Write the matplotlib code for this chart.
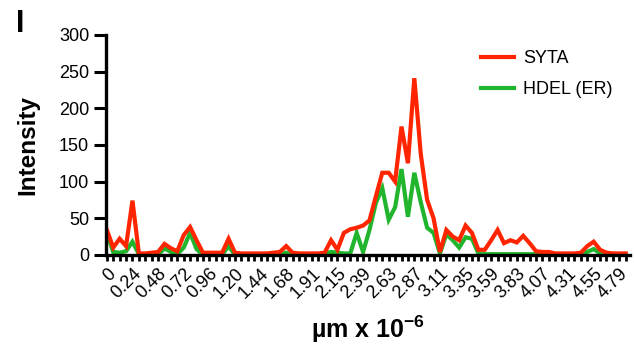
import numpy as np
import matplotlib.pyplot as plt

plt.rcParams['font.family'] = ['Liberation Sans', 'DejaVu Sans']
plt.rcParams['mathtext.fontset'] = 'custom'
plt.rcParams['mathtext.rm'] = 'Liberation Sans:bold'
plt.rcParams['mathtext.bf'] = 'Liberation Sans:bold'
plt.rcParams['mathtext.default'] = 'bf'

# intensity profile, one value per position step
syta = [34, 10, 22, 12, 74, 2, 2, 3, 4, 15, 9, 5, 27, 38, 20, 3, 3, 3, 3, 22,
        3, 2, 2, 2, 2, 2, 3, 4, 12, 3, 2, 2, 2, 2, 3, 20, 7, 30, 35, 37,
        40, 47, 80, 112, 112, 100, 175, 125, 241, 138, 75, 50, 4, 34, 25, 20, 40, 30, 7, 7,
        20, 34, 16, 20, 17, 26, 16, 5, 4, 4, 2, 2, 2, 2, 3, 12, 18, 7, 3, 2,
        2, 2]
hdel = [30, 4, 3, 5, 18, 1, 0, 0, 0, 9, 4, 1, 10, 30, 8, 0, 0, 0, 0, 12,
        0, 0, 0, 0, 0, 0, 0, 1, 3, 0, 0, 0, 0, 0, 2, 4, 3, 2, 2, 30,
        4, 34, 71, 91, 48, 65, 117, 52, 112, 72, 37, 30, 2, 28, 20, 10, 24, 22, 2, 1,
        1, 1, 1, 1, 1, 1, 1, 1, 0, 0, 0, 0, 0, 0, 1, 4, 8, 2, 0, 0,
        0, 0]
tick_labels = ['0', '0.24', '0.48', '0.72', '0.96', '1.20', '1.44', '1.68', '1.91', '2.15',
               '2.39', '2.63', '2.87', '3.11', '3.35', '3.59', '3.83', '4.07', '4.31', '4.55', '4.79']

x = np.arange(len(syta))

fig = plt.figure(figsize=(6.34, 3.56), dpi=100)
ax = fig.add_axes([0.167, 0.284, 0.827, 0.618])

ax.plot(x, hdel, color='#20B52C', lw=3, label='HDEL (ER)', solid_joinstyle='miter')
ax.plot(x, syta, color='#FF2500', lw=3, label='SYTA', solid_joinstyle='miter')

ax.set_xlim(-0.15, 81.7)
ax.set_ylim(0, 300)
ax.set_yticks([0, 50, 100, 150, 200, 250, 300])
ax.set_xticks(np.arange(0, 81, 4))
ax.set_xticklabels(tick_labels, rotation=45, ha='right', va='top', rotation_mode='anchor')
ax.set_xticks(x, minor=True)

for s in ['top', 'right']:
    ax.spines[s].set_visible(False)
for s in ['left', 'bottom']:
    ax.spines[s].set_linewidth(2.4)
ax.tick_params(axis='y', length=9, width=2.2, labelsize=13, pad=3)
ax.tick_params(axis='x', which='both', length=4.5, width=2, labelsize=13, pad=3)

ax.set_ylabel('Intensity', fontsize=17.5, fontweight='bold', labelpad=14)
ax.set_xlabel('\u00b5m x 10$^{-6}$', fontsize=18, fontweight='bold', labelpad=8)

h, l = ax.get_legend_handles_labels()
ax.legend(h[::-1], l[::-1], loc='upper left', bbox_to_anchor=(0.685, 1.005), frameon=False,
          fontsize=13, handlelength=1.8, handletextpad=0.5, labelspacing=0.8)

fig.text(0.025, 0.91, 'I', fontsize=22, fontweight='bold')

fig.savefig('out.png', dpi=100)
